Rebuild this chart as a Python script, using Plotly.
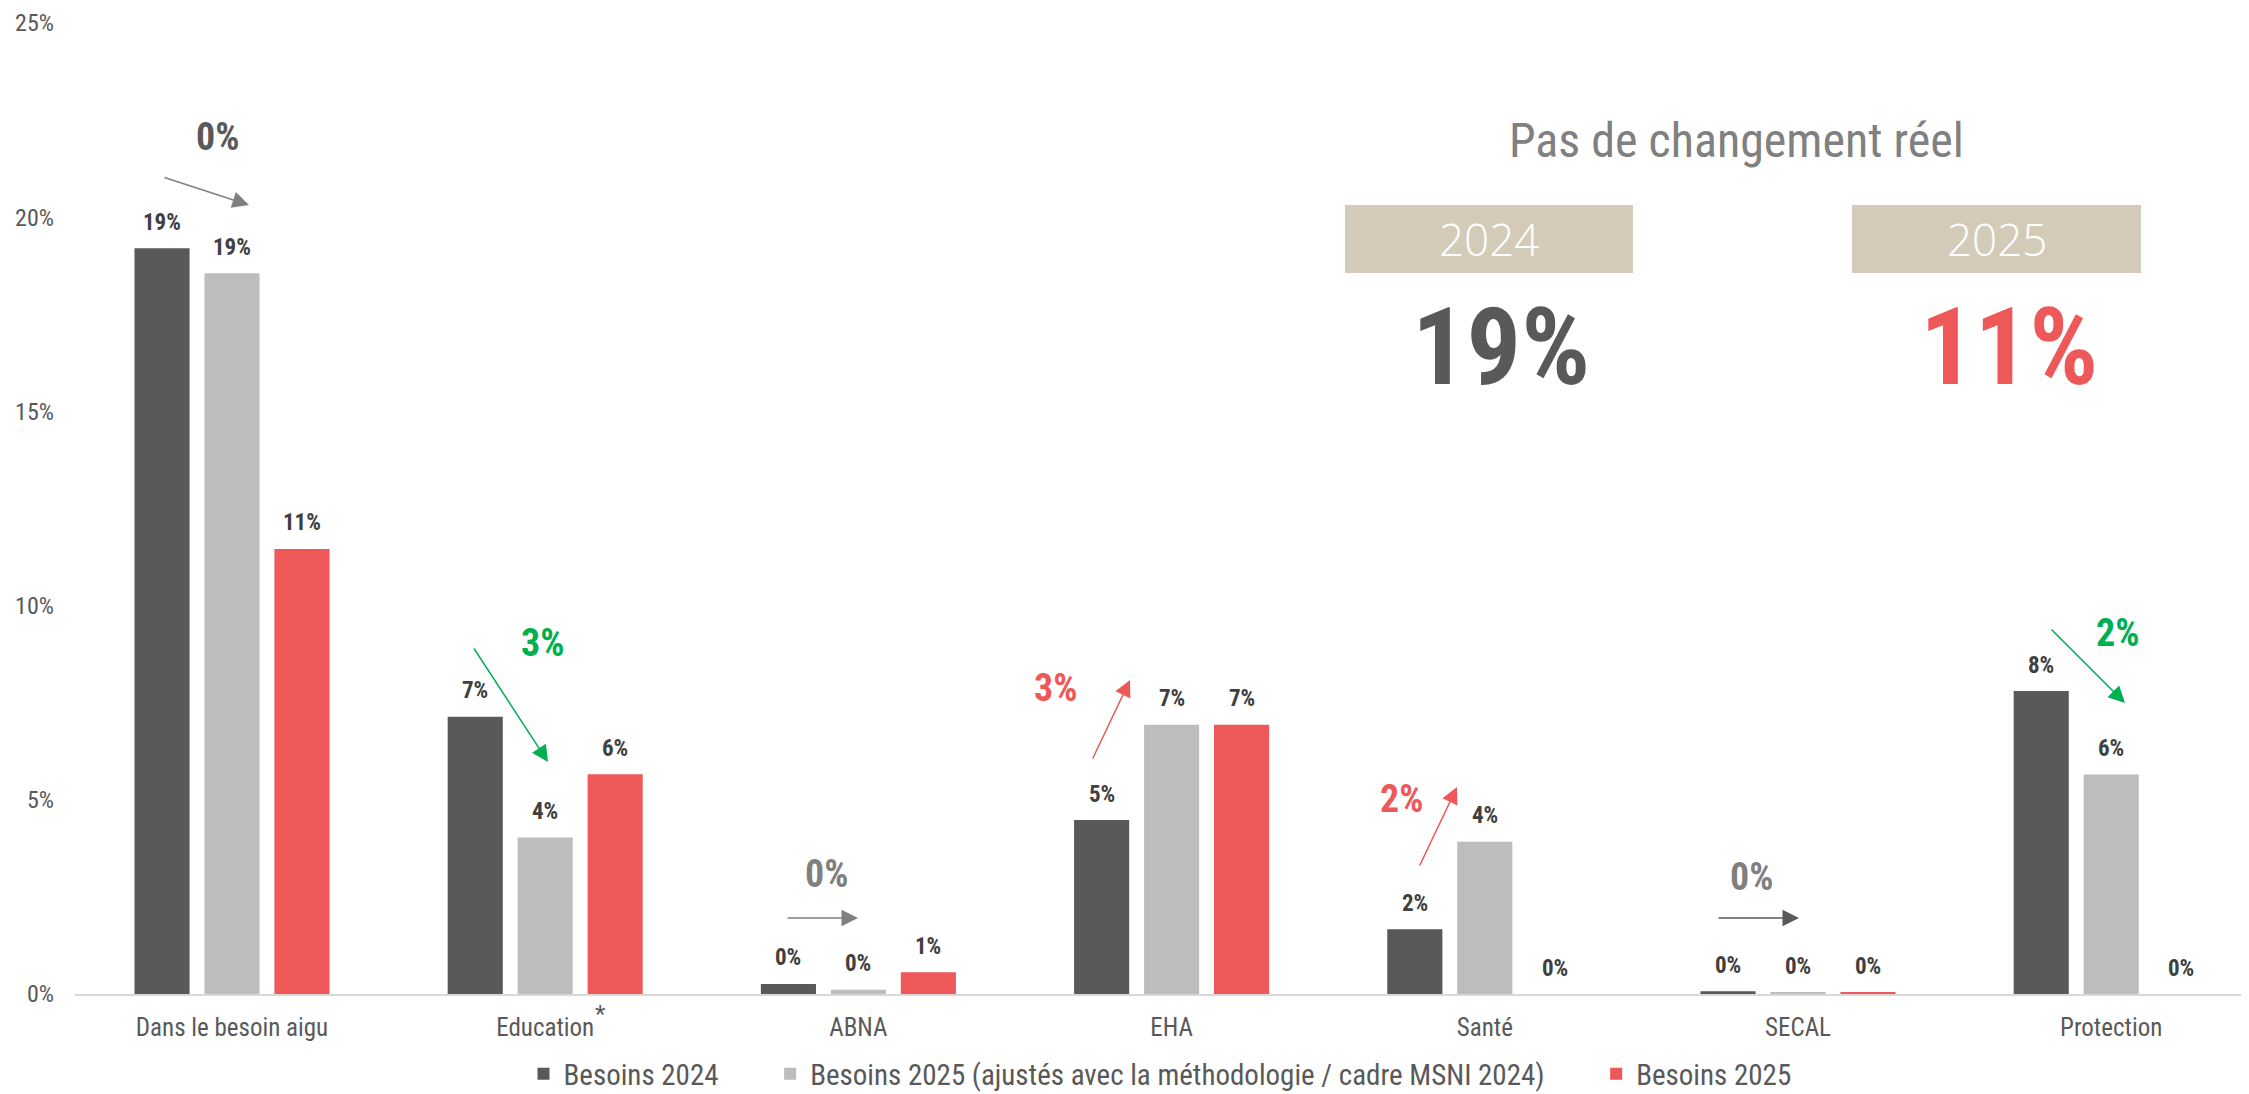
import plotly.graph_objects as go

# ---------------- data ----------------
categories = ["Dans le besoin aigu", "Education", "ABNA", "EHA", "Santé", "SECAL", "Protection"]
series_names = ["Besoins 2024",
                "Besoins 2025 (ajustés avec la méthodologie / cadre MSNI 2024)",
                "Besoins 2025"]
besoins_2024 = [19.2, 7.14, 0.26, 4.48, 1.67, 0.07, 7.8]
besoins_2025_ajustes = [18.56, 4.03, 0.11, 6.93, 3.92, 0.04, 5.65]
besoins_2025 = [11.46, 5.66, 0.56, 6.93, 0.0, 0.03, 0.0]
labels_2024 = ["19%", "7%", "0%", "5%", "2%", "0%", "8%"]
labels_2025_ajustes = ["19%", "4%", "0%", "7%", "4%", "0%", "6%"]
labels_2025 = ["11%", "6%", "1%", "7%", "0%", "0%", "0%"]
y_ticks = [0, 5, 10, 15, 20, 25]

# change annotations: text, text colour, arrow colour
change_texts = ["0%", "3%", "0%", "3%", "2%", "0%", "2%"]
change_text_colors = ["#595959", "#00B050", "#7F7F7F", "#EE5859", "#EE5859", "#7F7F7F", "#00B050"]
change_arrow_colors = ["#808080", "#00B050", "#808080", "#EE5859", "#EE5859", "#595959", "#00B050"]

summary_years = ["2024", "2025"]
summary_values = ["19%", "11%"]
summary_title = "Pas de changement réel"

# ---------------- styling ----------------
FONT = "Roboto Condensed, Liberation Sans Narrow, DejaVu Sans Condensed, Roboto, sans-serif"
colors = ["#595959", "#BDBDBD", "#EE5859"]
W, H = 2249, 1094          # reference canvas
PAGE_OFF = 8               # default body margin of the html page
FIG_W, FIG_H = W - PAGE_OFF, H - PAGE_OFF
X0_PX, BAND_PX, Y0_PX, UNIT_PX = 232, 313.2, 994, 38.84
PLOT_L, PLOT_T = 75, 23


def dx(px):
    return (px - X0_PX) / BAND_PX


def dy(py):
    return (Y0_PX - py) / UNIT_PX


offsets = [-0.2234, 0.0, 0.2234]
bar_w = 0.176
series_vals = [besoins_2024, besoins_2025_ajustes, besoins_2025]
series_labels = [labels_2024, labels_2025_ajustes, labels_2025]
GAP = "\u00a0" * 7

fig = go.Figure()
for k in range(3):
    fig.add_trace(go.Bar(
        x=[i + offsets[k] for i in range(len(categories))],
        y=series_vals[k],
        width=bar_w,
        name=series_names[k] + (GAP if k < 2 else ""),
        marker=dict(color=colors[k], line=dict(width=0)),
        hoverinfo="skip",
    ))

annotations = []
# data labels above bars
for k in range(3):
    for i, (v, lab) in enumerate(zip(series_vals[k], series_labels[k])):
        annotations.append(dict(
            x=i + offsets[k], y=v, xref="x", yref="y", text=lab, showarrow=False,
            yanchor="middle", yshift=26,
            font=dict(family=FONT, size=23, color="#404040", weight="bold")))

# change arrows (head px, tail px) and change text positions (px, reference canvas)
arrow_heads = [(249, 205), (548, 762), (858, 918), (1130, 680), (1457, 787), (1799, 918), (2125, 703)]
arrow_tails = [(163, 177), (473, 647), (786, 918), (1092, 760), (1419, 867), (1717, 918), (2050, 628)]
text_pos = [(217, 137), (542, 643), (826, 874), (1055, 688), (1401, 799), (1751, 877), (2117, 633)]
for i in range(len(categories)):
    (hx, hy), (tx, ty) = arrow_heads[i], arrow_tails[i]
    annotations.append(dict(
        x=dx(hx), y=dy(hy), ax=dx(tx), ay=dy(ty), xref="x", yref="y", axref="x", ayref="y",
        text="", showarrow=True, arrowhead=2, arrowsize=2.2, arrowwidth=1.5,
        arrowcolor=change_arrow_colors[i]))
    px_, py_ = text_pos[i]
    annotations.append(dict(
        x=dx(px_), y=dy(py_), xref="x", yref="y", text=change_texts[i], showarrow=False,
        xanchor="center", yanchor="middle",
        font=dict(family=FONT, size=38, color=change_text_colors[i], weight="bold")))

# asterisk after Education
annotations.append(dict(x=dx(600), y=0, xref="x", yref="y", yshift=-20, text="*", showarrow=False,
                        font=dict(family=FONT, size=24, color="#595959")))

# summary panel
annotations.append(dict(x=dx(1736), y=dy(140), xref="x", yref="y", text=summary_title, showarrow=False,
                        font=dict(family=FONT, size=48, color="#808080")))
box_x = [(1345, 1633), (1852, 2141)]
shapes = []
val_colors = ["#595959", "#EE5859"]
for j in range(2):
    x0, x1 = box_x[j]
    shapes.append(dict(type="rect", xref="x", yref="y", x0=dx(x0), x1=dx(x1), y0=dy(273), y1=dy(205),
                       fillcolor="#D3CBB8", line=dict(width=0), layer="below"))
    cx = (x0 + x1) / 2
    annotations.append(dict(x=dx(cx), y=dy(239), xref="x", yref="y", text=summary_years[j], showarrow=False,
                            font=dict(family="Open Sans, sans-serif", size=44, color="white", weight=300)))
    annotations.append(dict(x=dx(cx + 12), y=dy(347), xref="x", yref="y", text=summary_values[j],
                            showarrow=False,
                            font=dict(family=FONT, size=108, color=val_colors[j], weight="bold")))

fig.update_layout(
    width=FIG_W, height=FIG_H,
    margin=dict(l=PLOT_L - PAGE_OFF, r=0, t=PLOT_T - PAGE_OFF, b=H - Y0_PX, autoexpand=False),
    plot_bgcolor="white", paper_bgcolor="white",
    font=dict(family=FONT, color="#595959"),
    showlegend=True,
    legend=dict(orientation="h", x=(1160 - PLOT_L) / (W - PLOT_L), xanchor="center",
                y=-(1074 - Y0_PX) / (Y0_PX - PLOT_T), yanchor="middle",
                font=dict(family=FONT, size=29, color="#595959"), traceorder="normal"),
    annotations=annotations,
    shapes=shapes,
    xaxis=dict(range=[dx(PLOT_L), dx(W)], tickvals=list(range(len(categories))), ticktext=categories,
               showgrid=False, zeroline=False, showline=True, linecolor="#D9D9D9", linewidth=2,
               ticks="", automargin=False, ticklabelstandoff=10,
               tickfont=dict(family=FONT, size=25, color="#595959")),
    yaxis=dict(range=[0, 25], tickvals=y_ticks, ticktext=[f"{t}%" for t in y_ticks],
               showgrid=False, zeroline=False, showline=False, ticks="", automargin=False,
               ticklabelstandoff=20,
               tickfont=dict(family=FONT, size=24, color="#595959")),
)

fig.write_html("out.html")
